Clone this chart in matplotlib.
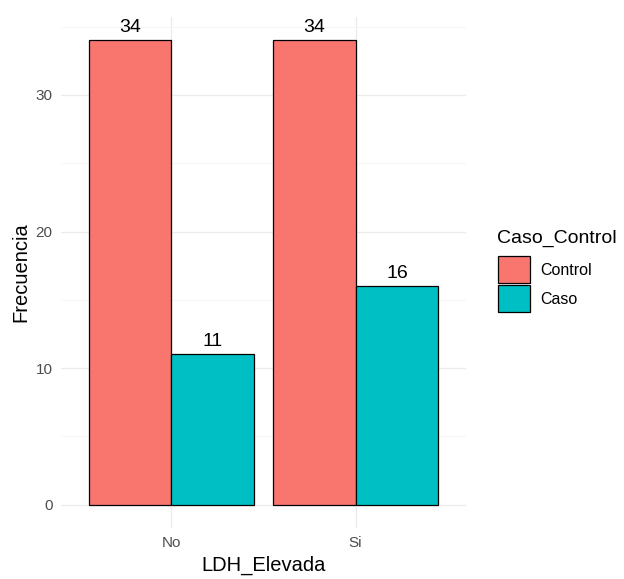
import numpy as np
import matplotlib.pyplot as plt
from matplotlib.patches import Patch

plt.rcParams['font.family'] = ['Liberation Sans', 'DejaVu Sans']

categories = ['No', 'Si']
series = ['Control', 'Caso']
control = [34, 34]
caso = [11, 16]
colors = ['#F8766D', '#00BFC4']

fig = plt.figure(figsize=(6.24, 5.79), dpi=100)
ax = fig.add_axes([61 / 624, 1 - 528 / 579, (466 - 61) / 624, (528 - 17) / 579])

x = np.arange(1, len(categories) + 1)
w = 0.45
for vals, off, col in [(control, -w / 2, colors[0]), (caso, w / 2, colors[1])]:
    bars = ax.bar(x + off, vals, width=w, color=col, edgecolor='black', linewidth=0.9, zorder=2)
    for b, v in zip(bars, vals):
        ax.text(b.get_x() + b.get_width() / 2, v + 0.3, str(v), ha='center', va='bottom',
                fontsize=14, color='black', zorder=3)

ax.set_xlim(0.4, 2.6)
ax.set_ylim(-1.7, 35.7)
ax.set_xticks(x)
ax.set_xticklabels(categories)
ax.set_yticks([0, 10, 20, 30])
ax.set_yticks([5, 15, 25, 35], minor=True)
ax.grid(True, which='major', color='#EBEBEB', linewidth=1.0, zorder=0)
ax.grid(True, which='minor', axis='y', color='#F3F3F3', linewidth=0.6, zorder=0)
ax.tick_params(which='both', length=0, labelsize=11, labelcolor='#4D4D4D', pad=6)
for s in ax.spines.values():
    s.set_visible(False)

ax.set_xlabel('LDH_Elevada', fontsize=14.5, labelpad=4)
ax.set_ylabel('Frecuencia', fontsize=14.5, labelpad=4)

# legend: title drawn separately so the gap to the keys can match
fig.text(497 / 624, 1 - 238 / 579, 'Caso_Control', fontsize=14, ha='left', va='center')
handles = [Patch(facecolor=c, edgecolor='black', linewidth=0.9) for c in colors]
fig.legend(handles, series, loc='upper left', bbox_to_anchor=(498 / 624, 1 - 256 / 579),
           frameon=False, fontsize=11.5, borderpad=0, borderaxespad=0,
           handlelength=2.0, handleheight=2.25, handletextpad=0.65, labelspacing=0.12)

fig.savefig('out.png', dpi=100)
